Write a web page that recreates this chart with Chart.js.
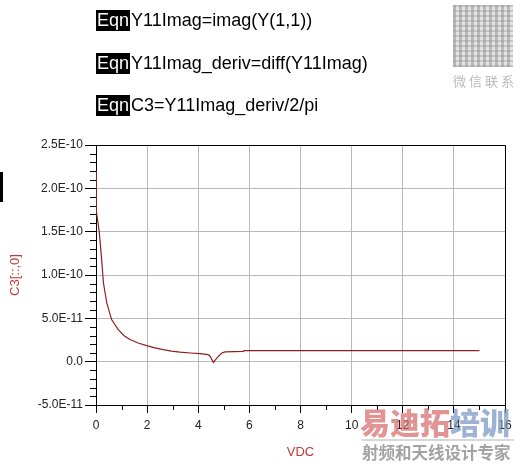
<!DOCTYPE html>
<html>
<head>
<meta charset="utf-8">
<script src="https://cdn.jsdelivr.net/npm/chart.js@4/dist/chart.umd.min.js"></script>
<style>
  html, body { margin: 0; padding: 0; background: #fff; }
  #wrap { position: relative; width: 521px; height: 467px; overflow: hidden; }
  canvas { position: absolute; left: 0; top: 0; }
  .eqn { position: absolute; left: 96px; height: 21px; line-height: 21px;
         font-family: "Liberation Sans", Arial, sans-serif; font-size: 18px; color: #000; white-space: nowrap; }
  .eqn b { display: inline-block; background: #000; color: #fff; font-weight: normal; padding: 0 1px; margin-right: 1px; }
  .qr { position: absolute; left: 453px; top: 5px; width: 60px; height: 62px;
        background:
          repeating-linear-gradient(90deg, rgba(150,150,150,0.55) 0 3px, rgba(255,255,255,0) 3px 6px),
          repeating-linear-gradient(0deg, rgba(170,170,170,0.55) 0 2px, rgba(255,255,255,0) 2px 5px),
          #e4e4e4; }
  .qrtxt { position: absolute; left: 453px; top: 71px; font-family: "Noto Sans CJK SC", sans-serif;
           font-size: 13px; color: #bbb; letter-spacing: 3px; white-space: nowrap; }
  .wm1 { position: absolute; left: 360px; top: 403px; font-family: "Noto Sans CJK SC", sans-serif;
         font-weight: 900; font-size: 30px; line-height: 36px; letter-spacing: 0px; white-space: nowrap; }
  .wm1 .r { color: rgba(215,105,105,0.72); }
  .wm1 .b { color: rgba(120,150,195,0.72); }
  .wmline { position: absolute; left: 362px; top: 439px; width: 152px; height: 2px; background: rgba(190,190,190,0.6); }
  .wm2 { position: absolute; left: 362px; top: 441px; font-family: "Noto Sans CJK SC", sans-serif;
         font-weight: 700; font-size: 16.5px; line-height: 22px; color: rgba(140,140,140,0.8); white-space: nowrap; }
  .bar { position: absolute; left: 0; top: 172px; width: 3px; height: 30px; background: #000; }
</style>
</head>
<body>
<div id="wrap">
  <canvas id="c" width="521" height="467"></canvas>
  <div class="eqn" style="top:10px"><b>Eqn</b>Y11Imag=imag(Y(1,1))</div>
  <div class="eqn" style="top:53px"><b>Eqn</b>Y11Imag_deriv=diff(Y11Imag)</div>
  <div class="eqn" style="top:95px"><b>Eqn</b>C3=Y11Imag_deriv/2/pi</div>
  <div class="qr"></div>
  <div class="qrtxt">微信联系</div>
  <div class="bar"></div>
  <div class="wm1"><span class="r">易迪拓</span><span class="b">培训</span></div>
  <div class="wmline"></div>
  <div class="wm2">射频和天线设计专家</div>
</div>
<script>
// ---- data ----
const vdc = [0, 0.0, 0.03, 0.08, 0.13, 0.22, 0.29, 0.42, 0.61, 0.87, 1.1, 1.33, 1.65, 1.98, 2.3, 2.63, 2.95, 3.29, 3.7, 4.07, 4.39, 4.47, 4.59, 4.75, 4.92, 5.05, 5.4, 5.76, 5.8, 5.9, 7, 9, 11, 13, 15];
const c3  = [2.2e-10, 2.05e-10, 1.73e-10, 1.6e-10, 1.49e-10, 1.18e-10, 0.91e-10, 0.68e-10, 0.486e-10, 0.37e-10, 0.30e-10, 0.255e-10, 0.215e-10, 0.185e-10, 0.16e-10, 0.139e-10, 0.122e-10, 0.11e-10, 0.10e-10, 0.093e-10, 0.082e-10, 0.06e-10, -0.08e-11, 0.05e-10, 0.100e-10, 0.112e-10, 0.115e-10, 0.119e-10, 0.127e-10, 0.127e-10, 0.127e-10, 0.127e-10, 0.127e-10, 0.127e-10, 0.127e-10];
const xTickValues = [0, 2, 4, 6, 8, 10, 12, 14, 16];
const xTickLabels = ['0', '2', '4', '6', '8', '10', '12', '14', '16'];
const yTickValues = [-5e-11, 0, 5e-11, 1e-10, 1.5e-10, 2e-10, 2.5e-10];
const yTickLabels = ['-5.0E-11', '0.0', '5.0E-11', '1.0E-10', '1.5E-10', '2.0E-10', '2.5E-10'];
const xMinorValues = [1, 3, 5, 7, 9, 11, 13, 15];
const yMinorValues = [-4e-11, -3e-11, -2e-11, -1e-11, 1e-11, 2e-11, 3e-11, 4e-11, 6e-11, 7e-11, 8e-11, 9e-11,
  1.1e-10, 1.2e-10, 1.3e-10, 1.4e-10, 1.6e-10, 1.7e-10, 1.8e-10, 1.9e-10, 2.1e-10, 2.2e-10, 2.3e-10, 2.4e-10];

const tickFont = { family: '"Liberation Sans", Arial, sans-serif', size: 12 };
const titleFont = { family: '"Liberation Sans", Arial, sans-serif', size: 13 };

const framePlugin = {
  id: 'frame',
  afterDraw(chart) {
    const { ctx, chartArea: a, scales } = chart;
    ctx.save();
    ctx.strokeStyle = '#000';
    ctx.lineWidth = 1;
    ctx.beginPath();
    ctx.moveTo(Math.round(a.left) + 0.5, Math.round(a.top) + 0.5);
    ctx.lineTo(Math.round(a.right) + 0.5, Math.round(a.top) + 0.5);
    ctx.lineTo(Math.round(a.right) + 0.5, Math.round(a.bottom) + 0.5);
    xMinorValues.forEach(v => {
      const x = Math.round(scales.x.getPixelForValue(v)) + 0.5;
      ctx.moveTo(x, a.bottom);
      ctx.lineTo(x, a.bottom + 5);
    });
    yMinorValues.forEach(v => {
      const y = Math.round(scales.y.getPixelForValue(v)) + 0.5;
      ctx.moveTo(a.left - 6, y);
      ctx.lineTo(a.left, y);
    });
    ctx.stroke();
    ctx.restore();
  }
};

new Chart(document.getElementById('c'), {
  type: 'line',
  data: {
    datasets: [{
      data: vdc.map((x, i) => ({ x, y: c3[i] })),
      borderColor: '#8e1f1f',
      borderWidth: 1.2,
      pointRadius: 0,
      tension: 0,
      fill: false
    }]
  },
  options: {
    responsive: false,
    animation: false,
    devicePixelRatio: 1,
    layout: { padding: { left: 0, top: 145, right: 16, bottom: 0 } },
    plugins: { legend: { display: false }, tooltip: { enabled: false }, title: { display: false } },
    scales: {
      x: {
        type: 'linear',
        min: 0, max: 16,
        afterBuildTicks: s => { s.ticks = xTickValues.map(v => ({ value: v })); },
        afterFit: s => { s.height = 62; },
        ticks: {
          color: '#222', font: tickFont, padding: 5, maxRotation: 0, autoSkip: false,
          callback: (v, i) => xTickLabels[i]
        },
        grid: { color: '#b8b8b8', lineWidth: 1, tickColor: '#000', tickLength: 8 },
        border: { display: true, color: '#000', width: 1 },
        title: { display: true, text: 'VDC', color: '#c0393b', font: titleFont, padding: { top: 0, bottom: 7 } }
      },
      y: {
        type: 'linear',
        min: -5e-11, max: 2.5e-10,
        afterBuildTicks: s => { s.ticks = yTickValues.map(v => ({ value: v })); },
        afterFit: s => { s.width = 96; },
        ticks: {
          color: '#222', font: tickFont, padding: 2, autoSkip: false,
          callback: (v, i) => yTickLabels[i]
        },
        grid: { color: '#b8b8b8', lineWidth: 1, tickColor: '#000', tickLength: 11 },
        border: { display: true, color: '#000', width: 1 },
        title: { display: true, text: 'C3[::,0]', color: '#c0393b', font: titleFont, padding: { top: 8, bottom: 0 } }
      }
    }
  },
  plugins: [framePlugin]
});
</script>
</body>
</html>
